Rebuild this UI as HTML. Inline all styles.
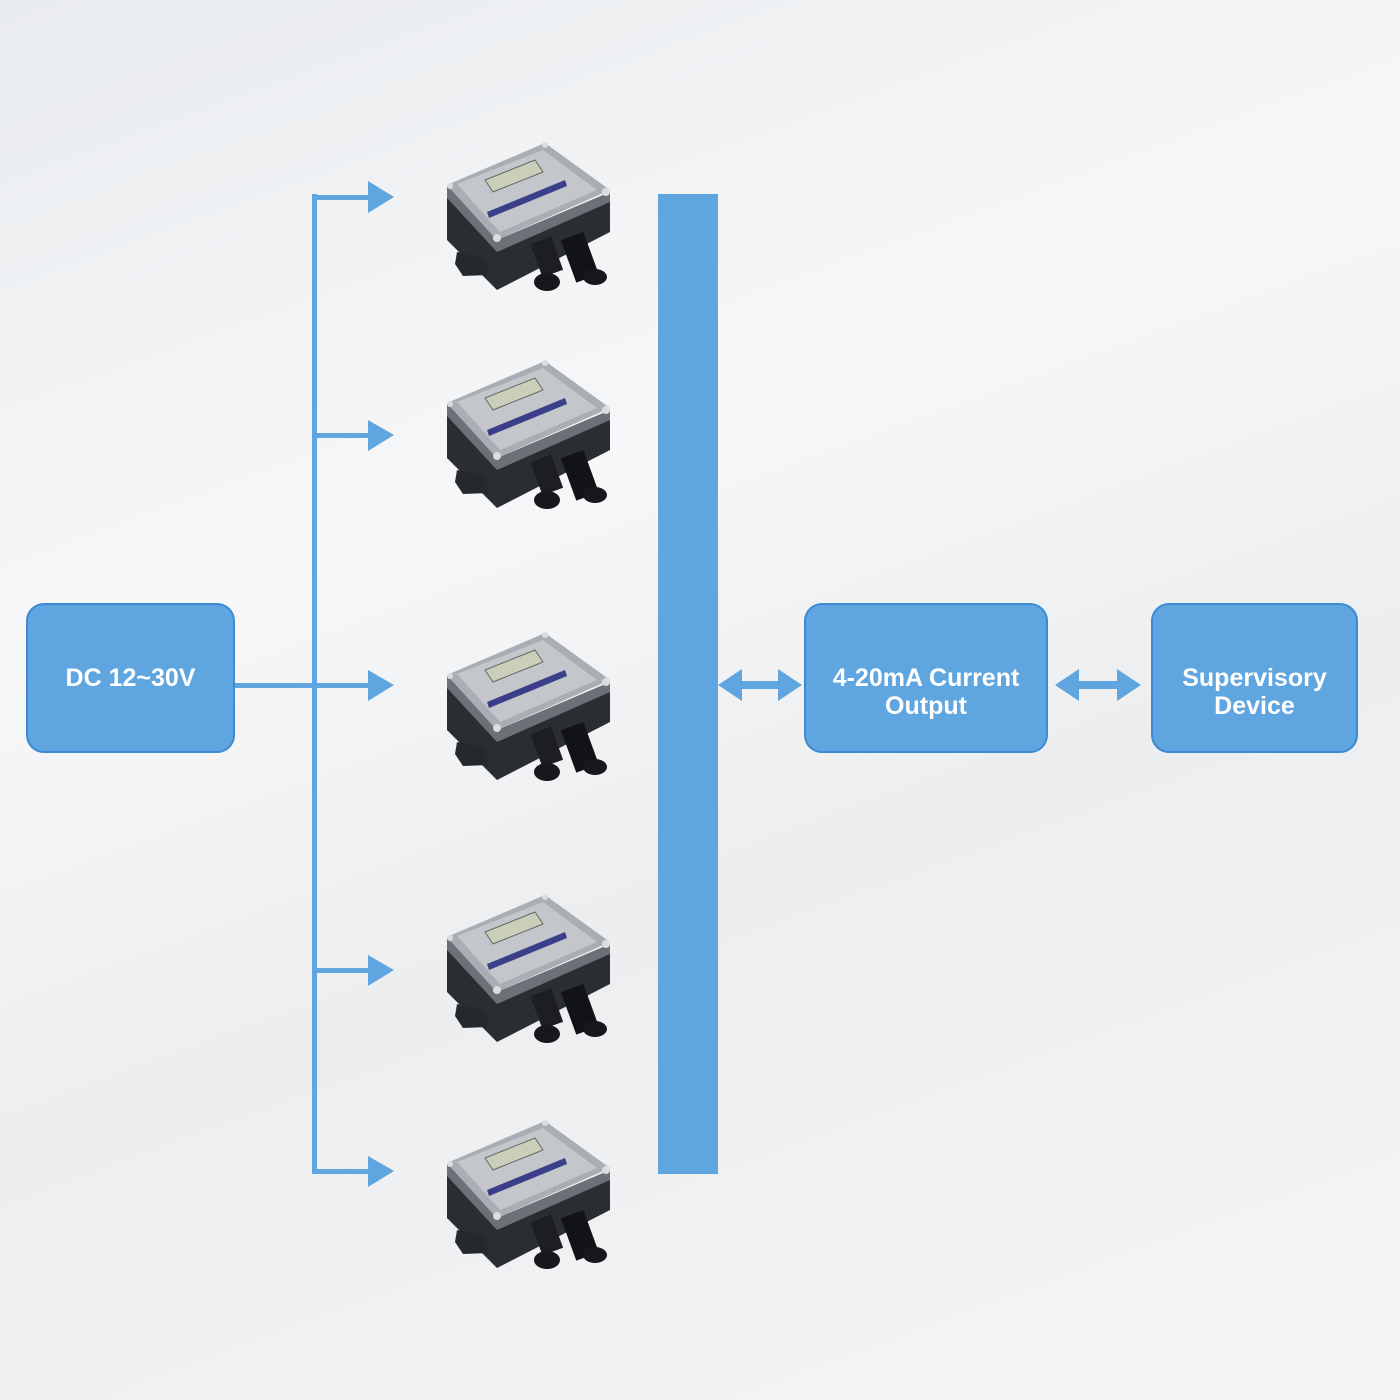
<!DOCTYPE html>
<html><head><meta charset="utf-8"><style>
html,body{margin:0;padding:0}
body{width:1400px;height:1400px;position:relative;overflow:hidden;background:linear-gradient(160deg,#e9ecef 0%,#f6f7f8 35%,#eceef0 60%,#f4f5f6 100%);font-family:"Liberation Sans",sans-serif}
.box{position:absolute;background:#5fa5df;border:2px solid #3a8bd2;border-radius:18px;box-sizing:border-box;color:#fff;font-weight:bold;font-size:25px;line-height:28px;display:flex;align-items:center;justify-content:center;text-align:center}
.two{padding-top:28px}
svg{position:absolute;left:0;top:0}
</style></head><body>
<svg width="1400" height="1400" viewBox="0 0 1400 1400">
<defs>
<g id="dev">
<polygon points="2,52 52,108 165,55 165,92 52,150 2,100" fill="#2a2d32"/>
<polygon points="12,112 40,118 44,135 18,136 10,124" fill="#25282c"/>
<polygon points="2,45 52,100 165,52 165,62 52,112 2,58" fill="#6c7178"/>
<polygon points="2,45 100,3 165,50 52,100" fill="#a9aeb4"/>
<polygon points="12,44 98,10 152,50 55,92" fill="#c3c7cc"/>
<polygon points="40,40 90,20 98,32 48,52" fill="#c9cfb8" stroke="#666" stroke-width="1"/>
<polygon points="42,72 120,40 122,46 44,78" fill="#3b3f8a"/>
<circle cx="52" cy="98" r="4" fill="#ddd"/><circle cx="161" cy="52" r="4" fill="#ddd"/><circle cx="5" cy="46" r="3" fill="#ddd"/><circle cx="100" cy="5" r="3" fill="#ddd"/>
<rect x="90" y="100" width="22" height="35" fill="#1c1e22" transform="rotate(-20 100 115)"/>
<rect x="122" y="95" width="24" height="45" fill="#111316" transform="rotate(-20 134 115)"/>
<ellipse cx="102" cy="142" rx="13" ry="9" fill="#16181b"/>
<ellipse cx="150" cy="137" rx="12" ry="8" fill="#16181b"/>
</g>
</defs>
<g fill="#5fa5df">
<rect x="312" y="194" width="5" height="980"/>
<rect x="234" y="683" width="80" height="5"/>
<rect x="312" y="195" width="60" height="5"/><polygon points="368,181 394,197 368,213"/>
<rect x="312" y="433" width="60" height="5"/><polygon points="368,420 394,435 368,451"/>
<rect x="312" y="683" width="60" height="5"/><polygon points="368,670 394,685 368,701"/>
<rect x="312" y="968" width="60" height="5"/><polygon points="368,955 394,970 368,986"/>
<rect x="312" y="1169" width="60" height="5"/><polygon points="368,1156 394,1171 368,1187"/>
<rect x="658" y="194" width="60" height="980"/>
<polygon points="718,685 742,669 742,681 778,681 778,669 802,685 778,701 778,689 742,689 742,701"/>
<polygon points="1055,685 1079,669 1079,681 1117,681 1117,669 1141,685 1117,701 1117,689 1079,689 1079,701"/>
</g>
<use href="#dev" x="445" y="140"/>
<use href="#dev" x="445" y="358"/>
<use href="#dev" x="445" y="630"/>
<use href="#dev" x="445" y="892"/>
<use href="#dev" x="445" y="1118"/>
</svg>
<div class="box" style="left:26px;top:603px;width:209px;height:150px">DC 12~30V</div>
<div class="box two" style="left:804px;top:603px;width:244px;height:150px">4-20mA Current<br>Output</div>
<div class="box two" style="left:1151px;top:603px;width:207px;height:150px">Supervisory<br>Device</div>
</body></html>
